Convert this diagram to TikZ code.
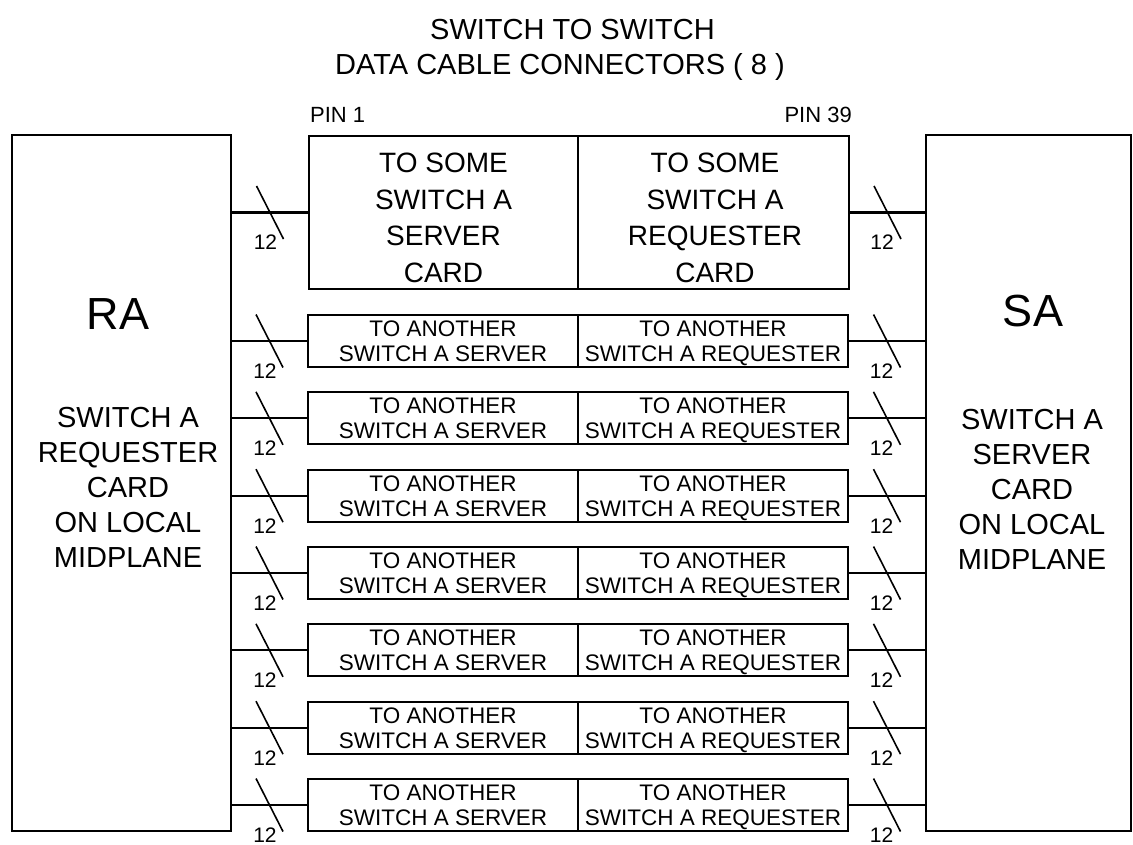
\documentclass[tikz,border=0pt]{standalone}
\usepackage{fontspec}
\setmainfont{Liberation Sans}
\usetikzlibrary{calc}
\tikzset{
  x=1pt, y=-1pt,
  boxline/.style={draw, line width=2pt, inner sep=0pt, rectangle},
  rowcell/.style={boxline, minimum width=270pt, minimum height=52pt, align=center, text depth=0pt, font=\fontsize{22.5pt}{25pt}\selectfont},
  bigcell/.style={boxline, minimum height=153pt},
  bigtxt/.style={align=center, inner sep=0pt, text depth=0pt, font=\fontsize{28pt}{36.5pt}\selectfont},
  bodytxt/.style={align=center, inner sep=0pt, text depth=0pt, font=\fontsize{29pt}{35pt}\selectfont},
  nametxt/.style={inner sep=0pt, anchor=base, font=\fontsize{45pt}{50pt}\selectfont},
  wire/.style={line width=2.2pt},
  busslash/.style={line width=1.6pt},
  buscount/.style={inner sep=0pt, font=\fontsize{21pt}{24pt}\selectfont},
  pinlabel/.style={inner sep=0pt, font=\fontsize{22pt}{24pt}\selectfont},
  titletxt/.style={inner sep=0pt, anchor=base west, font=\fontsize{29pt}{35pt}\selectfont},
}
\begin{document}
\begin{tikzpicture}
\useasboundingbox (0,0) rectangle (1133,845);
\fill[white] (0,0) rectangle (1133,845);

% title
\node[titletxt] (title1) at (430,39.5) {SWITCH TO SWITCH};
\node[titletxt] (title2) at (335,74.5) {DATA CABLE CONNECTORS ( 8 )};
\node[pinlabel, anchor=base west] (pin1) at (310,123) {PIN 1};
\node[pinlabel, anchor=base east] (pin39) at (852,123) {PIN 39};

% cards
\node[boxline, minimum width=219pt, minimum height=696pt] (RA) at (121.5,483) {};
\node[boxline, minimum width=205pt, minimum height=696pt] (SA) at (1028.5,483) {};
\node[nametxt] (RAname) at (118,329) {RA};
\node[nametxt] (SAname) at (1033,326) {SA};
\node[bodytxt] (RAbody) at (128,487) {SWITCH A\\REQUESTER\\CARD\\ON LOCAL\\MIDPLANE};
\node[bodytxt] (SAbody) at (1032,489) {SWITCH A\\SERVER\\CARD\\ON LOCAL\\MIDPLANE};

% big connector
\node[bigcell, minimum width=269pt] (BL) at (443.5,212.5) {};
\node[bigcell, minimum width=271pt] (BR) at (713.5,212.5) {};
\node[bigtxt] (BLtext) at (443.5,217.5) {TO SOME\\SWITCH A\\SERVER\\CARD};
\node[bigtxt] (BRtext) at (715,217.5) {TO SOME\\SWITCH A\\REQUESTER\\CARD};
\draw[wire] (RA.east |- BL.west) -- coordinate (mlB) (BL.west);
\draw[wire] (BR.east) -- coordinate (mrB) (SA.west |- BR.east);
\draw[busslash] ($(mlB)+(-13.5,-26.5)$) -- ($(mlB)+(13.5,26.5)$);
\draw[busslash] ($(mrB)+(-13.5,-26.5)$) -- ($(mrB)+(13.5,26.5)$);
\node[buscount] (clB) at ($(mlB)+(-4.5,30)$) {12};
\node[buscount] (crB) at ($(mrB)+(-5.5,30)$) {12};

% small connectors
\foreach \i/\yy in {1/341,2/418.33,3/495.67,4/573,5/650.33,6/727.67,7/805}{
  \node[rowcell] (L\i) at (443,\yy) {TO ANOTHER\\SWITCH A SERVER};
  \node[rowcell] (R\i) at (713,\yy) {TO ANOTHER\\SWITCH A REQUESTER};
  \draw[wire] (RA.east |- L\i.west) -- coordinate (ml\i) (L\i.west);
  \draw[wire] (R\i.east) -- coordinate (mr\i) (SA.west |- R\i.east);
  \draw[busslash] ($(ml\i)+(-13.5,-26.5)$) -- ($(ml\i)+(13.5,26.5)$);
  \draw[busslash] ($(mr\i)+(-13.5,-26.5)$) -- ($(mr\i)+(13.5,26.5)$);
  \node[buscount] (cl\i) at ($(ml\i)+(-4.5,30)$) {12};
  \node[buscount] (cr\i) at ($(mr\i)+(-5.5,30)$) {12};
}
\end{tikzpicture}
\end{document}
